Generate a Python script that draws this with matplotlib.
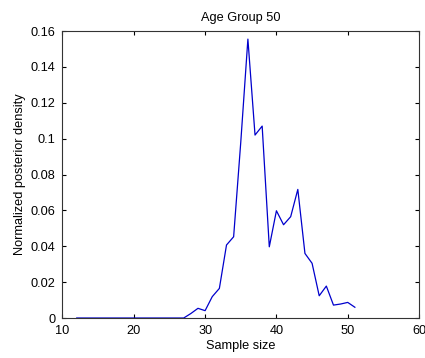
import matplotlib
matplotlib.use('Agg')
import matplotlib.pyplot as plt
from matplotlib.ticker import FixedLocator, FixedFormatter

# 样本量与归一化后验密度
sample_size = list(range(12, 52))
density = [0, 0, 0, 0, 0, 0, 0, 0, 0, 0, 0, 0, 0, 0, 0, 0,
           0.0025, 0.0054, 0.0041, 0.0119, 0.0165, 0.0407, 0.0453, 0.098,
           0.1555, 0.102, 0.107, 0.0397, 0.0598, 0.052, 0.0565, 0.0717,
           0.036, 0.0305, 0.0124, 0.0178, 0.0072, 0.0078, 0.0087, 0.006]

xticks = [10, 20, 30, 40, 50, 60]
yticks = [0, 0.02, 0.04, 0.06, 0.08, 0.1, 0.12, 0.14, 0.16]
ytick_labels = ['0', '0.02', '0.04', '0.06', '0.08', '0.1', '0.12', '0.14', '0.16']

plt.rcParams['font.family'] = ['Liberation Sans', 'DejaVu Sans']
fs = 9.2

fig = plt.figure(figsize=(4.25, 3.58), dpi=100)
ax = fig.add_axes([0.147, 0.1117, 0.839, 0.8016])
ax.plot(sample_size, density, color='#0000cc', linewidth=0.9)

ax.set_xlim(10, 60)
ax.set_ylim(0, 0.16)
ax.xaxis.set_major_locator(FixedLocator(xticks))
ax.yaxis.set_major_locator(FixedLocator(yticks))
ax.yaxis.set_major_formatter(FixedFormatter(ytick_labels))
ax.tick_params(direction='in', top=True, right=True, length=3, width=0.8,
               labelsize=fs, colors='black', pad=5)
for s in ax.spines.values():
    s.set_linewidth(0.8)
    s.set_color('#333333')

ax.set_xlabel('Sample size', fontsize=fs, labelpad=2)
ax.set_ylabel('Normalized posterior density', fontsize=fs, labelpad=3)
ax.set_title('Age Group 50', fontsize=fs, pad=7)

plt.savefig('out.png', dpi=100)
